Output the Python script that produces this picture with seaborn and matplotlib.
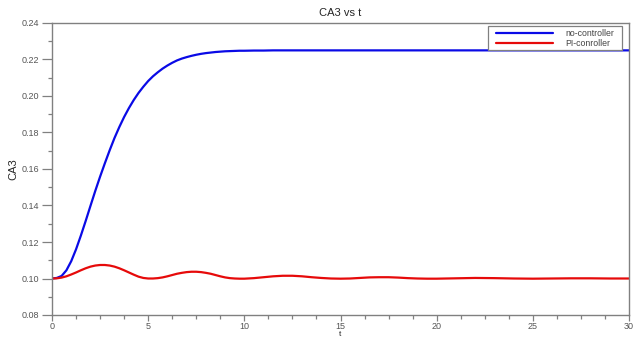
import numpy as np
import pandas as pd
import matplotlib
matplotlib.use("Agg")
import matplotlib.pyplot as plt
import seaborn as sns
from matplotlib.ticker import MultipleLocator
from matplotlib.patches import Rectangle

# time grid
t = [0, 0.25, 0.5, 0.75, 1.0, 1.25, 1.5, 1.75, 2.0, 2.25, 2.5, 2.75, 3.0, 3.25, 3.5, 3.75,
     4.0, 4.25, 4.5, 4.75, 5.0, 5.25, 5.5, 5.75, 6.0, 6.25, 6.5, 6.75, 7.0, 7.25, 7.5, 7.75,
     8.0, 8.25, 8.5, 8.75, 9.0, 9.25, 9.5, 9.75, 10.0,
     10.5, 11, 11.5, 12, 12.5, 13, 13.5, 14, 14.5, 15, 15.5, 16, 16.5, 17, 17.5, 18, 18.5,
     19, 19.5, 20, 21, 22, 23, 24, 25, 26, 27, 28, 29, 30]

# CA3 without controller
no_ctrl = [0.1000, 0.1003, 0.1014, 0.1045, 0.1095, 0.1160, 0.1235, 0.1315, 0.1398, 0.1480,
           0.1558, 0.1632, 0.1703, 0.1770, 0.1830, 0.1885, 0.1934, 0.1978, 0.2017, 0.2051,
           0.2082, 0.2108, 0.2130, 0.2150, 0.2167, 0.2182, 0.2195, 0.2205, 0.2213, 0.2220,
           0.2226, 0.2231, 0.2235, 0.2238, 0.2241, 0.2243, 0.2245, 0.2246, 0.2247, 0.2248,
           0.2248,
           0.2249, 0.2249, 0.2250, 0.2250, 0.2250, 0.2250, 0.2250, 0.2250, 0.2250, 0.2250,
           0.2250, 0.2250, 0.2250, 0.2250, 0.2250, 0.2250, 0.2250, 0.2250, 0.2250, 0.2250,
           0.2250, 0.2250, 0.2250, 0.2250, 0.2250, 0.2250, 0.2250, 0.2250, 0.2250, 0.2250]

# CA3 with PI controller
pi_ctrl = [0.1000, 0.1001, 0.1005, 0.1012, 0.1022, 0.1033, 0.1045, 0.1056, 0.1065, 0.1071,
           0.1074, 0.1074, 0.1071, 0.1065, 0.1056, 0.1045, 0.1033, 0.1021, 0.1010, 0.1003,
           0.1000, 0.1000, 0.1002, 0.1006, 0.1012, 0.1019, 0.1026, 0.1031, 0.1035, 0.1037,
           0.1037, 0.1035, 0.1031, 0.1026, 0.1019, 0.1012, 0.1006, 0.1002, 0.1000, 0.0999,
           0.0999,
           0.1002, 0.1007, 0.1012, 0.1015, 0.1015, 0.1012, 0.1007, 0.1003, 0.1000, 0.0999,
           0.1000, 0.1003, 0.1006, 0.1007, 0.1007, 0.1005, 0.1002, 0.1000, 0.0999, 0.0999,
           0.1001, 0.1003, 0.1002, 0.1000, 0.0999, 0.1000, 0.1001, 0.1001, 0.1000, 0.1000]

series_names = ["no-controller", "PI-conroller"]
series_colors = ["#0a0ae6", "#e60a0a"]

sns.set_style("ticks")
plt.rcParams['font.family'] = ['Liberation Sans', 'DejaVu Sans']

df = pd.DataFrame({"t": t, series_names[0]: no_ctrl, series_names[1]: pi_ctrl})
df = df.melt(id_vars="t", var_name="case", value_name="CA3")

fig = plt.figure(figsize=(6.34, 3.38), dpi=100)
ax = fig.add_axes([52/634, 23/338, 577/634, 292/338])

sns.lineplot(data=df, x="t", y="CA3", hue="case", palette=series_colors,
             linewidth=1.6, ax=ax)

ax.set_xlim(0, 30)
ax.set_ylim(0.08, 0.24)
ax.xaxis.set_major_locator(MultipleLocator(5))
ax.xaxis.set_minor_locator(MultipleLocator(1.25))
ax.yaxis.set_major_locator(MultipleLocator(0.02))
ax.yaxis.set_minor_locator(MultipleLocator(0.01))
ax.yaxis.set_major_formatter(matplotlib.ticker.FormatStrFormatter("%.2f"))

gray = "#808080"
for s in ax.spines.values():
    s.set_color(gray)
    s.set_linewidth(1.0)
ax.tick_params(which="major", length=4, width=0.9, color=gray, labelsize=6.5,
               labelcolor="#555555", pad=1)
ax.tick_params(which="minor", length=3, width=0.9, color=gray)
ax.tick_params(axis="y", which="major", length=7, pad=2)

ax.set_xlabel("t", fontsize=6)
ax.xaxis.label.set_va("center")
ax.xaxis.set_label_coords(0.5, -20/292)
ax.set_ylabel("CA3", fontsize=8)
ax.yaxis.label.set_va("center")
ax.yaxis.set_label_coords(-39/577, 0.5)
ax.set_title("CA3 vs t", fontsize=8, pad=5)

# legend box (square, gray frame) with the entries inside
box = Rectangle((488/634, 1 - 50/338), 134/634, 24/338, transform=fig.transFigure,
                facecolor="white", edgecolor=gray, linewidth=0.9, zorder=4, clip_on=False)
ax.add_patch(box)
leg = ax.legend(loc="upper left", bbox_to_anchor=(496/634, 1 - 29.5/338),
                bbox_transform=fig.transFigure, fontsize=6.3, frameon=False,
                borderaxespad=0, borderpad=0, handlelength=6.5, handletextpad=1.45,
                labelspacing=0.1)
leg.set_zorder(5)
for txt in leg.get_texts():
    txt.set_color("#444444")

fig.savefig("out.png", dpi=100)
